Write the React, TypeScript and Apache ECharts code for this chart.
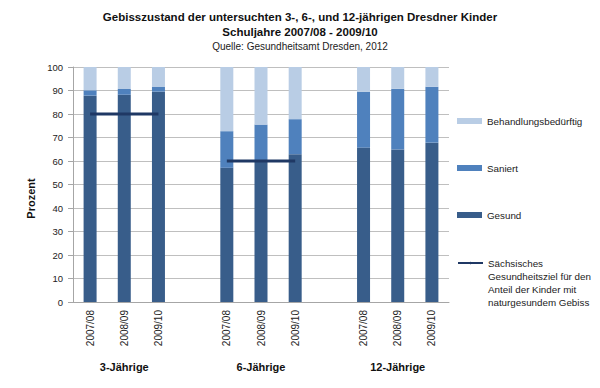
import React, { useEffect, useRef } from "react";
import * as echarts from "echarts";

const categories = ["2007/08", "2008/09", "2009/10", "", "2007/08", "2008/09", "2009/10", "", "2007/08", "2008/09", "2009/10"];
const groupLabels = ["3-Jährige", "6-Jährige", "12-Jährige"];
const groupLabelIndex = [1, 5, 9];

const gesund = [87.8, 88.2, 89.5, null, 57.1, 60.3, 62.9, null, 65.7, 64.9, 67.8];
const saniert = [2.3, 2.4, 2.0, null, 15.6, 15.2, 14.9, null, 23.8, 25.8, 23.8];
const behandlung = [9.9, 9.4, 8.5, null, 27.3, 24.5, 22.2, null, 10.5, 9.3, 8.4];
const ziel = [80, 80, 80, null, 60, 60, 60, null, null, null, null];

const yTicks = { min: 0, max: 100, interval: 10 };

const FONT = "'Liberation Sans', Arial, Helvetica, sans-serif";
const C_BEH = "#B9CDE5";
const C_SAN = "#4F81BD";
const C_GES = "#385D8A";
const C_ZIEL = "#1F3864";
const ZIEL_NAME = "Sächsisches\nGesundheitsziel für den\nAnteil der Kinder mit\nnaturgesundem Gebiss";

export default function App() {
  const ref = useRef<HTMLDivElement>(null);
  useEffect(() => {
    document.body.style.margin = "0";
    const chart = echarts.init(ref.current!, null, { renderer: "svg" });
    const groupCats = categories.map((_, i) => {
      const k = groupLabelIndex.indexOf(i);
      return k >= 0 ? groupLabels[k] : "";
    });
    const LH = 13.3;
    const legendBase = {
      orient: "vertical" as const,
      left: 457,
      padding: 0,
      itemWidth: 25,
      itemHeight: 6,
      textStyle: { fontFamily: FONT, fontSize: 9.8, color: "#222", lineHeight: LH },
      selectedMode: false,
    };
    chart.setOption({
      animation: false,
      textStyle: { fontFamily: FONT },
      title: {
        text: "Gebisszustand der untersuchten 3-, 6-, und 12-jährigen Dresdner Kinder\nSchuljahre 2007/08 - 2009/10",
        subtext: "Quelle: Gesundheitsamt Dresden, 2012",
        left: "center",
        top: 9,
        padding: 0,
        itemGap: 1,
        textStyle: { fontFamily: FONT, fontSize: 11.5, fontWeight: "bold", color: "#111", lineHeight: 15 },
        subtextStyle: { fontFamily: FONT, fontSize: 10, color: "#222", lineHeight: 12 },
      },
      legend: [
        { ...legendBase, top: 121 - LH / 2, data: [{ name: "Behandlungsbedürftig", icon: "rect" }] },
        { ...legendBase, top: 168 - LH / 2, data: [{ name: "Saniert", icon: "rect" }] },
        { ...legendBase, top: 215 - LH / 2, data: [{ name: "Gesund", icon: "rect" }] },
        {
          ...legendBase,
          top: 263 - 3.5 * LH,
          itemHeight: 3,
          data: [{ name: ZIEL_NAME }],
          formatter: (name: string) => "\n\n\n" + name,
        },
      ],
      grid: { left: 73, right: 151, top: 67, bottom: 86, containLabel: false },
      xAxis: [
        {
          type: "category",
          data: categories,
          axisLine: { show: true, lineStyle: { color: "#A6A6A6" } },
          axisTick: { show: false },
          axisLabel: { rotate: 90, interval: 0, fontSize: 10, color: "#222", margin: 8, fontFamily: FONT },
        },
        {
          type: "category",
          data: groupCats,
          position: "bottom",
          offset: 52,
          axisLine: { show: false },
          axisTick: { show: false },
          axisLabel: { interval: 0, fontSize: 11, fontWeight: "bold", color: "#111", margin: 7, fontFamily: FONT },
        },
      ],
      yAxis: {
        type: "value",
        min: yTicks.min,
        max: yTicks.max,
        interval: yTicks.interval,
        name: "Prozent",
        nameLocation: "middle",
        nameRotate: 90,
        nameGap: 35,
        nameTextStyle: { fontFamily: FONT, fontSize: 11, fontWeight: "bold", color: "#111", padding: [0, 28, 0, 0] },
        axisLine: { show: true, lineStyle: { color: "#A6A6A6" } },
        axisTick: { show: true, length: 5, lineStyle: { color: "#A6A6A6" } },
        axisLabel: { fontSize: 9.5, color: "#222", margin: 10, fontFamily: FONT },
        splitLine: { show: true, lineStyle: { color: "#BFBFBF", width: 1 } },
      },
      series: [
        { name: "Gesund", type: "bar", stack: "a", data: gesund, barWidth: 13, itemStyle: { color: C_GES } },
        { name: "Saniert", type: "bar", stack: "a", data: saniert, barWidth: 13, itemStyle: { color: C_SAN } },
        { name: "Behandlungsbedürftig", type: "bar", stack: "a", data: behandlung, barWidth: 13, itemStyle: { color: C_BEH } },
        {
          name: ZIEL_NAME,
          type: "line",
          data: ziel,
          symbol: "none",
          connectNulls: false,
          z: 5,
          lineStyle: { color: C_ZIEL, width: 3 },
          itemStyle: { color: C_ZIEL },
        },
      ],
    });
    return () => chart.dispose();
  }, []);
  return <div ref={ref} style={{ width: 600, height: 388 }} />;
}
